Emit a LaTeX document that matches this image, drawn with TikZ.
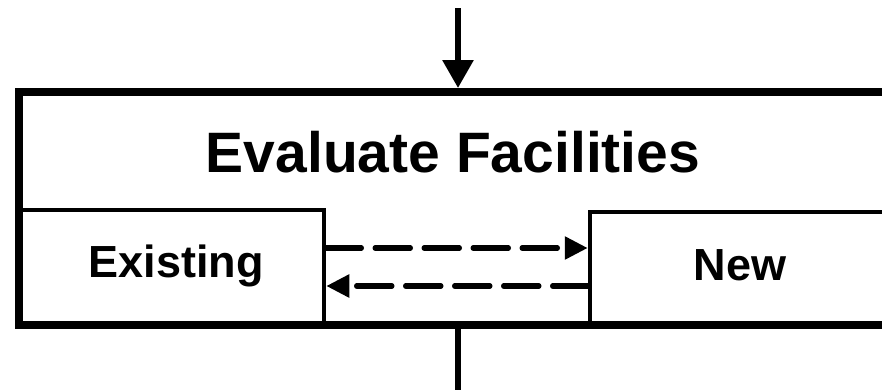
\documentclass[tikz,border=0pt]{standalone}
\usepackage{fontspec}
\setmainfont{Liberation Sans}
\usetikzlibrary{arrows.meta, positioning, calc}
\tikzset{
  every picture/.style={font=\bfseries},
  frame/.style={draw, line width=8pt, inner sep=0pt},
  part/.style={draw, line width=4.5pt, inner sep=0pt},
  label/.style={anchor=base, inner sep=0pt},
  flow/.style={-{Triangle[length=28pt, width=30pt]}, line width=6pt},
  dasharrow/.style={-{Triangle[length=23pt, width=22pt]}, line width=5.5pt, line cap=round, dash pattern=on 35pt off 14pt},
}

\begin{document}
\begin{tikzpicture}[x=1pt, y=-1pt]
  \useasboundingbox (0,0) rectangle (882,389);
  \clip (0,0) rectangle (882,389);
  % the two halves
  \node[part, minimum width=305pt, minimum height=115pt] (existing) at (171.5,267.5) {};
  \node[part, minimum width=310pt, minimum height=113pt] (new) at (745,268.5) {};
  % outer box
  \node[frame, minimum width=881pt, minimum height=233pt] (frame) at (459.5,208.5) {};
  \node[label, font=\fontsize{57}{60}\selectfont\bfseries] (title) at (453,172) {Evaluate Facilities};
  \node[label, font=\fontsize{45}{50}\selectfont\bfseries] (existlabel) at (176,277) {Existing};
  \node[label, font=\fontsize{45}{50}\selectfont\bfseries] (newlabel) at (740,280) {New};
  % flow in and out
  \coordinate (in) at (458,8);
  \coordinate (out) at (458,392);
  \draw[flow] (in) -- (in |- frame.north);
  \draw[line width=6pt] (frame.south -| out) -- (out);
  % exchange between existing and new
  \draw[dasharrow] (existing.east |- 0,248) -- (new.west |- 0,248);
  \draw[dasharrow] (new.west |- 0,286) -- (existing.east |- 0,286);
\end{tikzpicture}
\end{document}
